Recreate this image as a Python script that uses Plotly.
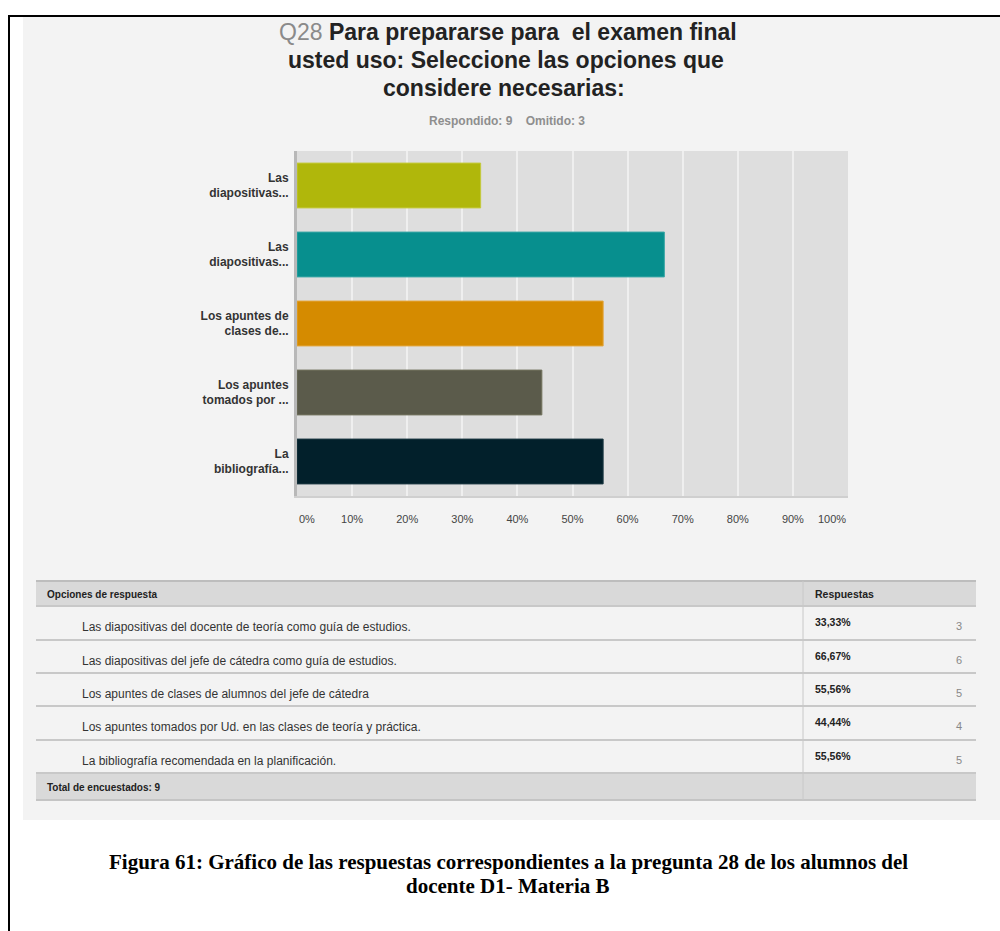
import plotly.graph_objects as go

# Survey question Q28 — options, shortened axis labels, shares and counts
short_labels = [
    "Las<br>diapositivas...",
    "Las<br>diapositivas...",
    "Los apuntes de<br>clases de...",
    "Los apuntes<br>tomados por ...",
    "La<br>bibliografía...",
]
full_options = [
    "Las diapositivas del docente de teoría como guía de estudios.",
    "Las diapositivas del jefe de cátedra como guía de estudios.",
    "Los apuntes de clases de alumnos del jefe de cátedra",
    "Los apuntes tomados por Ud. en las clases de teoría y práctica.",
    "La bibliografía recomendada en la planificación.",
]
percent = [33.33, 66.67, 55.56, 44.44, 55.56]
counts = [3, 6, 5, 4, 5]
bar_colors = ["#b0b70b", "#078f8e", "#d58b00", "#5b5b4b", "#02202b"]
edge_colors = ["#c4ca3c", "#3aa7a6", "#e3a53a", "#74745f", "#1d3843"]
x_ticks = [0, 10, 20, 30, 40, 50, 60, 70, 80, 90, 100]
answered, skipped, total = 9, 3, 9

W, H = 1000, 931


def px(x):
    return x / W


def py(y):
    return 1 - y / H


SANS = "Liberation Sans, Arial, sans-serif"
SERIF = "Liberation Serif, Times New Roman, serif"


def text_at(text, x, y, size, color="#222", family=SANS, xanchor="center"):
    return dict(text=text, x=px(x), y=py(y), xref="paper", yref="paper",
                xanchor=xanchor, yanchor="middle", showarrow=False,
                font=dict(family=family, size=size, color=color))


fig = go.Figure()
fig.add_trace(go.Bar(
    x=percent,
    y=list(range(len(percent))),
    orientation="h",
    marker=dict(color=bar_colors, line=dict(color=edge_colors, width=1)),
    width=0.65,
    hoverinfo="x",
))

shapes = []
annotations = []

# page frame and light panel
shapes.append(dict(type="rect", xref="paper", yref="paper", x0=px(23), x1=px(1000),
                   y0=py(820), y1=py(16), fillcolor="#f3f3f3", line_width=0, layer="below"))
shapes.append(dict(type="line", xref="paper", yref="paper", x0=px(8), x1=px(1000),
                   y0=py(16), y1=py(16), line=dict(color="#000", width=2)))
shapes.append(dict(type="line", xref="paper", yref="paper", x0=px(9), x1=px(9),
                   y0=py(15), y1=0, line=dict(color="#000", width=2)))

# plot background
shapes.append(dict(type="rect", xref="x domain", yref="y domain", x0=0, x1=1, y0=0, y1=1,
                   fillcolor="#dedede", line_width=0, layer="below"))

# title block
annotations.append(text_at("<span style='color:#8a8a8a'>Q28</span> <b>Para prepararse para  el examen final</b>",
                           508, 32, 23))
annotations.append(text_at("<b>usted uso: Seleccione las opciones que</b>", 506, 60, 23))
annotations.append(text_at("<b>considere necesarias:</b>", 504, 88, 23))
annotations.append(text_at(f"<b>Respondido: {answered}    Omitido: {skipped}</b>", 507, 121, 12,
                           color="#8e8e8e"))

# edge tick labels kept inside the plot width
for val, anchor in ((x_ticks[0], "left"), (x_ticks[-1], "right")):
    annotations.append(dict(text=f"{val}%", x=val, xref="x", xanchor=anchor,
                            y=py(519), yref="paper", yanchor="middle", showarrow=False,
                            font=dict(family=SANS, size=11, color="#444")))

# response table
tl, tr, tdiv = 36, 976, 803
head_top, head_bot = 581, 606
row_bounds = [606, 640, 673, 706, 740, 773]
total_bot = 800
shapes.append(dict(type="rect", xref="paper", yref="paper", x0=px(tl), x1=px(tr),
                   y0=py(head_bot), y1=py(head_top), fillcolor="#d9d9d9", line_width=0))
shapes.append(dict(type="line", xref="paper", yref="paper", x0=px(tl), x1=px(tr),
                   y0=py(head_top), y1=py(head_top), line=dict(color="#bdbdbd", width=2)))
shapes.append(dict(type="rect", xref="paper", yref="paper", x0=px(tl), x1=px(tr),
                   y0=py(total_bot), y1=py(row_bounds[-1]), fillcolor="#d9d9d9", line_width=0))
shapes.append(dict(type="line", xref="paper", yref="paper", x0=px(tl), x1=px(tr),
                   y0=py(total_bot), y1=py(total_bot), line=dict(color="#c4c4c4", width=2)))
for yb in row_bounds:
    shapes.append(dict(type="line", xref="paper", yref="paper", x0=px(tl), x1=px(tr),
                       y0=py(yb), y1=py(yb), line=dict(color="#c8c8c8", width=2)))
shapes.append(dict(type="line", xref="paper", yref="paper", x0=px(tdiv), x1=px(tdiv),
                   y0=py(total_bot), y1=py(head_top), line=dict(color="#c8c8c8", width=1)))

annotations.append(text_at("<b>Opciones de respuesta</b>", 45, 594, 10, xanchor="left"))
annotations.append(text_at("<b>Respuestas</b>", 813, 594, 10.5, xanchor="left"))
for i, (opt, p, c) in enumerate(zip(full_options, percent, counts)):
    top = row_bounds[i]
    annotations.append(text_at(opt, 80, top + 21, 12, color="#333", xanchor="left"))
    annotations.append(text_at("<b>" + f"{p:.2f}".replace(".", ",") + "%</b>", 813, top + 16,
                               10.5, xanchor="left"))
    annotations.append(text_at(str(c), 964, top + 20, 11, color="#888", xanchor="right"))
annotations.append(text_at(f"<b>Total de encuestados: {total}</b>", 45, 787, 10, xanchor="left"))

# figure caption
annotations.append(text_at("<b>Figura 61: Gráfico de las respuestas correspondientes a la pregunta 28 de los alumnos del</b>",
                           508, 862, 21, color="#000", family=SERIF))
annotations.append(text_at("<b>docente D1- Materia B</b>", 508, 886, 21, color="#000", family=SERIF))

fig.update_layout(
    width=W, height=H,
    margin=dict(l=0, r=0, t=0, b=0),
    paper_bgcolor="#ffffff",
    plot_bgcolor="rgba(0,0,0,0)",
    showlegend=False,
    bargap=0.35,
    shapes=shapes,
    annotations=annotations,
    xaxis=dict(
        domain=[px(297), px(848)],
        range=[x_ticks[0], x_ticks[-1]],
        tickvals=x_ticks[1:-1],
        ticktext=[f"{t}%" for t in x_ticks[1:-1]],
        showgrid=True, gridcolor="#efefef", gridwidth=2,
        zeroline=False,
        showline=True, linecolor="#cfcfcf", linewidth=2,
        ticks="", ticklabelstandoff=12,
        tickfont=dict(family=SANS, size=11, color="#444"),
        fixedrange=True,
    ),
    yaxis=dict(
        domain=[py(496), py(151)],
        range=[len(percent) - 0.5, -0.5],
        tickvals=list(range(len(percent))),
        ticktext=[f"<b>{s}</b>" for s in short_labels],
        showgrid=False, zeroline=False,
        showline=True, linecolor="#b8b8b8", linewidth=3,
        ticks="", ticklabelstandoff=3,
        tickfont=dict(family=SANS, size=12, color="#333"),
        fixedrange=True,
    ),
)

fig.write_html("out.html")
